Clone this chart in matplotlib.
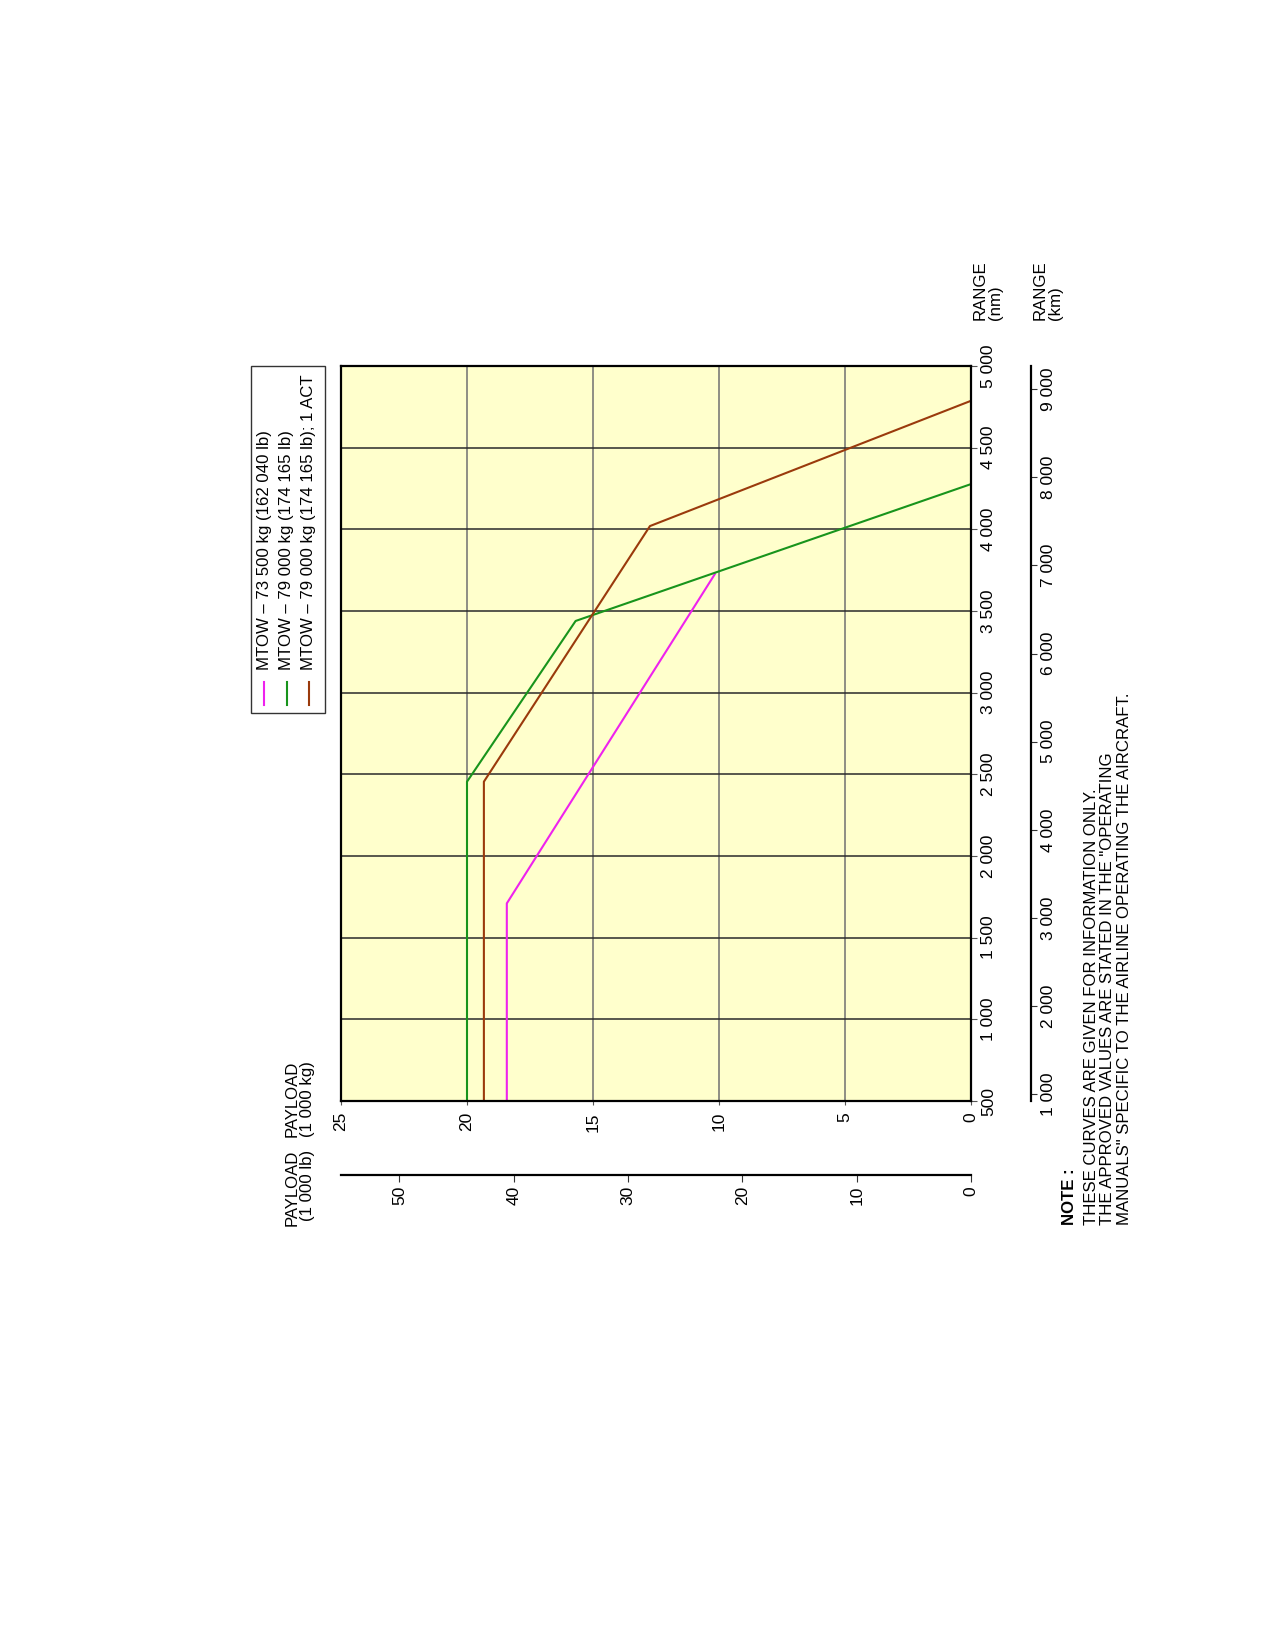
import matplotlib
matplotlib.use("Agg")
import matplotlib.pyplot as plt
from matplotlib.patches import Rectangle
from matplotlib.lines import Line2D

plt.rcParams["font.family"] = ["Liberation Sans", "DejaVu Sans"]

# payload-range data (range in nm, payload in 1000 kg)
labels = [
    "MTOW \u2013 73 500 kg (162 040 lb)",
    "MTOW \u2013 79 000 kg (174 165 lb)",
    "MTOW \u2013 79 000 kg (174 165 lb); 1 ACT",
]
colors = ["#EE22EE", "#18941C", "#9A3A0C"]
range_73500 = [500, 1710, 3727]
payload_73500 = [18.42, 18.42, 10.16]
range_79000 = [500, 2455, 3439, 4277]
payload_79000 = [20.0, 20.0, 15.69, 0.0]
range_79000_act = [500, 2455, 4020, 4787]
payload_79000_act = [19.33, 19.33, 12.74, 0.0]

nm_ticks = [500, 1000, 1500, 2000, 2500, 3000, 3500, 4000, 4500, 5000]
kg_ticks = [0, 5, 10, 15, 20, 25]
lb_ticks = [0, 10, 20, 30, 40, 50]
km_ticks = [1000, 2000, 3000, 4000, 5000, 6000, 7000, 8000, 9000]

notes = [
    "THESE CURVES ARE GIVEN FOR INFORMATION ONLY.",
    "THE APPROVED VALUES ARE STATED IN THE \"OPERATING",
    "MANUALS\" SPECIFIC TO THE AIRLINE OPERATING THE AIRCRAFT.",
]

W, H = 1275, 1645
FS = 12.1


def fx(px):
    return px / W


def fy(py):
    return 1 - py / H


def fmt(v):
    return f"{v:,}".replace(",", " ")


fig = plt.figure(figsize=(W / 100, H / 100), dpi=100)
fig.patch.set_facecolor("white")

# main chart, drawn rotated: payload across (25 -> 0), range up
L, R, T, B = 341, 971, 366, 1101
ax = fig.add_axes([fx(L), fy(B), fx(R - L), (B - T) / H])
ax.set_facecolor("#FFFFCC")
ax.set_xlim(25, 0)
ax.set_ylim(500, 5000)
ax.plot(payload_73500, range_73500, color=colors[0], lw=1.5, zorder=3)
ax.plot(payload_79000, range_79000, color=colors[1], lw=1.5, zorder=3)
ax.plot(payload_79000_act, range_79000_act, color=colors[2], lw=1.5, zorder=3)

ax.set_xticks(kg_ticks)
ax.set_xticklabels([str(v) for v in kg_ticks], rotation=90, fontsize=FS + 0.4)
ax.set_yticks(nm_ticks)
ax.set_yticklabels([fmt(v) for v in nm_ticks], rotation=90, va="center", fontsize=FS + 0.4)
ax.yaxis.tick_right()
ax.tick_params(axis="x", direction="out", length=3, pad=5, color="#555555")
ax.tick_params(axis="y", direction="out", length=4.5, pad=3, color="#555555")
ax.xaxis.grid(True, color="#707070", lw=1.1)
ax.yaxis.grid(True, color="#2a2a2a", lw=1.1)
ax.set_axisbelow(True)
for s in ax.spines.values():
    s.set_linewidth(1.6)
    s.set_color("black")
    s.set_zorder(4)

# payload in 1000 lb scale
ax_lb = fig.add_axes([fx(L), fy(1175), fx(R - L), 0.0005])
ax_lb.set_facecolor("none")
ax_lb.set_xlim(25 * 2.20462, 0)
ax_lb.set_xticks(lb_ticks)
ax_lb.set_xticklabels([str(v) for v in lb_ticks], rotation=90, fontsize=FS + 0.4)
ax_lb.set_yticks([])
ax_lb.tick_params(axis="x", direction="out", length=5, pad=3, color="#333333")
for k in ("top", "left", "right"):
    ax_lb.spines[k].set_visible(False)
ax_lb.spines["bottom"].set_linewidth(1.6)

# range in km scale
ax_km = fig.add_axes([fx(1031) - 0.0005, fy(B), 0.0005, (B - T) / H])
ax_km.set_facecolor("none")
ax_km.set_ylim(500 * 1.852, 5000 * 1.852)
ax_km.set_yticks(km_ticks)
ax_km.set_yticklabels([fmt(v) for v in km_ticks], rotation=90, va="center", fontsize=FS + 0.4)
ax_km.yaxis.tick_right()
ax_km.set_xticks([])
ax_km.tick_params(axis="y", direction="out", length=4.5, pad=3, color="#333333")
for k in ("top", "left", "bottom"):
    ax_km.spines[k].set_visible(False)
ax_km.spines["right"].set_linewidth(1.6)

# axis titles
fig.text(fx(300), fy(1137), "PAYLOAD\n(1 000 kg)", rotation=90, ha="center", va="bottom",
         multialignment="left", linespacing=0.98, fontsize=FS)
fig.text(fx(300), fy(1150), "PAYLOAD\n(1 000 lb)", rotation=90, ha="center", va="top",
         multialignment="right", linespacing=0.98, fontsize=FS)
fig.text(fx(988), fy(320), "RANGE\n(nm)", rotation=90, ha="center", va="bottom",
         multialignment="left", linespacing=0.98, fontsize=FS)
fig.text(fx(1048), fy(320), "RANGE\n(km)", rotation=90, ha="center", va="bottom",
         multialignment="left", linespacing=0.98, fontsize=FS)

# legend box (rotated)
fig.add_artist(Rectangle((fx(251), fy(713)), fx(325 - 251), (713 - 366) / H,
                         transform=fig.transFigure, facecolor="white",
                         edgecolor="#333333", lw=1.0))
for i, (lab, c) in enumerate(zip(labels, colors)):
    x = 264 + 22.5 * i
    fig.add_artist(Line2D([fx(x), fx(x)], [fy(705), fy(682)], transform=fig.transFigure,
                          color=c, lw=1.5))
    fig.text(fx(x), fy(670), lab, rotation=90, ha="center", va="bottom", fontsize=FS)

# note
fig.text(fx(1070), fy(1225), "NOTE :", rotation=90, ha="center", va="bottom",
         fontsize=FS, fontweight="bold")
fig.text(fx(1108), fy(1225), "\n".join(notes), rotation=90, ha="center", va="bottom",
         multialignment="left", linespacing=1.1, fontsize=FS)

fig.savefig("out.png", dpi=100)
